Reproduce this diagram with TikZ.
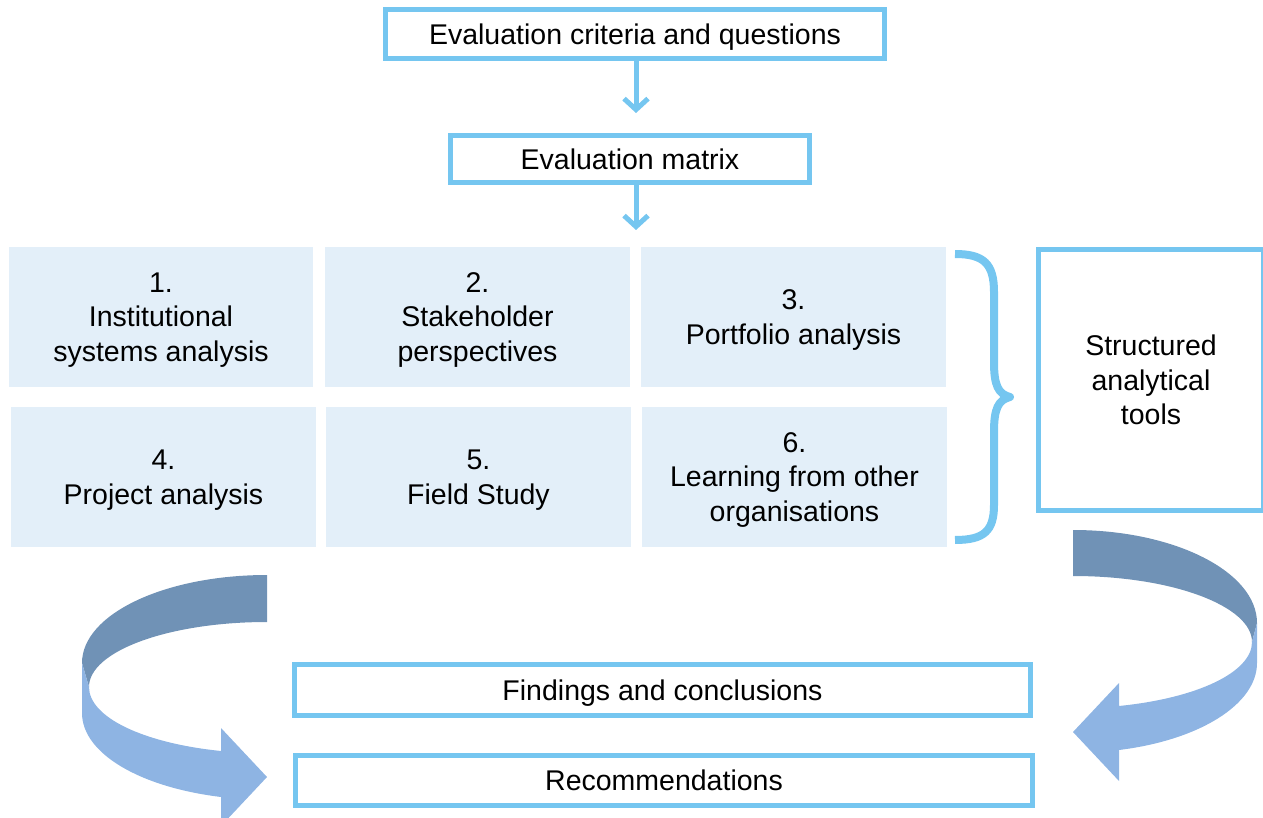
\documentclass[tikz,border=0pt]{standalone}
\usepackage{fontspec}
\setmainfont{Liberation Sans}
\usetikzlibrary{arrows.meta}
\definecolor{bord}{RGB}{117,198,240}
\definecolor{cell}{RGB}{227,239,249}
\definecolor{darkband}{RGB}{112,146,182}
\definecolor{lightband}{RGB}{142,180,227}
\begin{document}
\begin{tikzpicture}[x=1pt,y=-1pt,
  every node/.style={font=\fontsize{28.5}{34.5}\selectfont, inner sep=0pt, outer sep=0pt, align=center, text depth=0pt},
  box/.style={draw=bord, line width=5pt, fill=white, rectangle},
  cellbox/.style={fill=cell, rectangle, minimum width=305pt, minimum height=140pt, text depth=-2pt},
  conn/.style={draw=bord, line width=5pt, -{Straight Barb[length=11pt,width=24pt]}},
  ]
\useasboundingbox (0,0) rectangle (1263,818);
% top boxes
\node[box, minimum width=499pt, minimum height=49pt] (top) at (635,34) {Evaluation criteria and questions};
\node[box, minimum width=359pt, minimum height=47pt] (matrix) at (630,159) {Evaluation matrix};
\coordinate (a1) at (636,113);
\coordinate (a2) at (636,230);
\draw[conn] (top.south -| a1) -- (a1);
\draw[conn] (matrix.south -| a2) -- (a2);
% grid
\node[cellbox, minimum width=304pt] (c1) at (161,317) {1.\\Institutional\\systems analysis};
\node[cellbox] (c2) at (477.5,317) {2.\\Stakeholder\\perspectives};
\node[cellbox] (c3) at (793.5,317) {3.\\Portfolio analysis};
\node[cellbox] (c4) at (163.5,477) {4.\\Project analysis};
\node[cellbox] (c5) at (478.5,477) {5.\\Field Study};
\node[cellbox] (c6) at (794.5,477) {6.\\Learning from other\\organisations};
% brace
\draw[bord, line width=8pt, line join=round] (955,254) .. controls (984,254) and (994,264) .. (994,292) -- (994,362)
  .. controls (994,385) and (998,394) .. (1010,397)
  .. controls (998,400) and (994,409) .. (994,432) -- (994,505)
  .. controls (994,531) and (984,540) .. (955,540);
% structured tools
\node[box, minimum width=225pt, minimum height=261pt] (tools) at (1151,380) {Structured\\analytical\\tools};
% bottom boxes
\node[box, minimum width=736pt, minimum height=51pt] (find) at (662.5,690) {Findings and conclusions};
\node[box, minimum width=737pt, minimum height=50pt] (rec) at (664,780.5) {Recommendations};
% left curved arrow
\fill[darkband] (267,575) .. controls (165,575) and (82,614) .. (82,663) -- (89,687)
  .. controls (89,651) and (169,622) .. (267,622) -- cycle;
\fill[lightband] (82,663) -- (82,713) .. controls (82,753) and (139,787) .. (221,797)
  -- (221,826) -- (267,777) -- (221,728) -- (221,751)
  .. controls (142.5,743) and (89,717) .. (89,687) -- cycle;
% right curved arrow
\fill[darkband] (1073,530) .. controls (1175,530) and (1257,572) .. (1257,623) -- (1252,642)
  .. controls (1252,606) and (1172,576) .. (1073,576) -- cycle;
\fill[lightband] (1257,623) -- (1257,663) .. controls (1257,704) and (1200,740) .. (1119,750)
  -- (1119,781) -- (1073,732) -- (1119,683) -- (1119,706)
  .. controls (1198,698) and (1252,672) .. (1252,642) -- cycle;
\end{tikzpicture}
\end{document}
